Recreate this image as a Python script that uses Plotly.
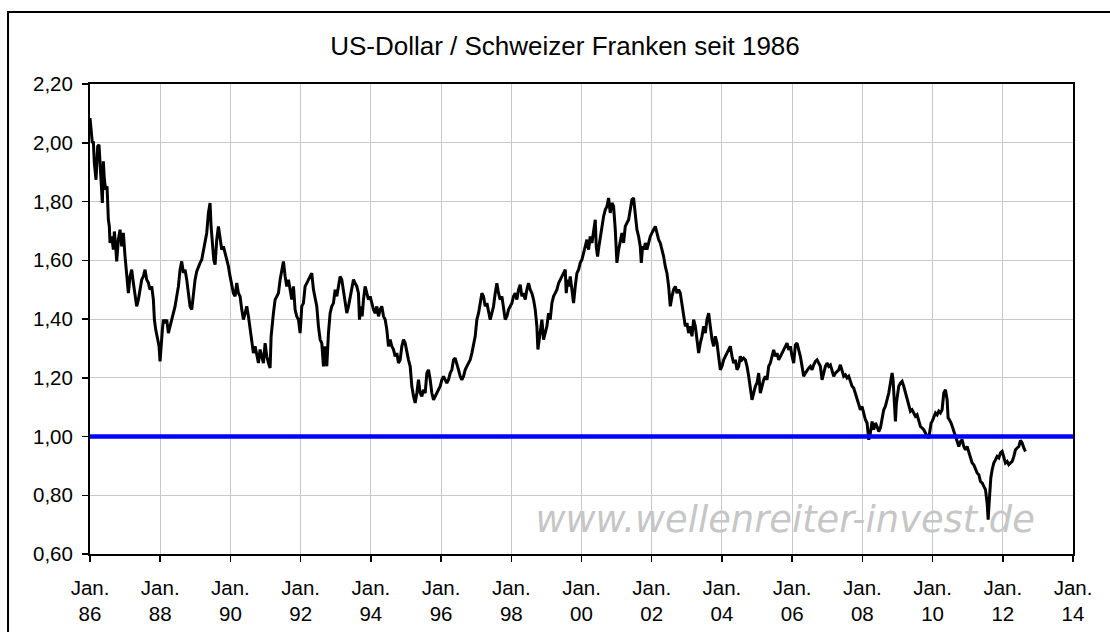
import plotly.graph_objects as go

TITLE = "US-Dollar / Schweizer Franken seit 1986"
WATERMARK = "www.wellenreiter-invest.de"

# Decimal year, USD/CHF rate
YEARS_86_91 = [1986.000, 1986.029, 1986.067, 1986.095, 1986.124, 1986.171, 1986.219, 1986.257, 1986.285, 1986.314,
               1986.352, 1986.380, 1986.409, 1986.447, 1986.485, 1986.523, 1986.551, 1986.570, 1986.618, 1986.665,
               1986.694, 1986.732, 1986.760, 1986.808, 1986.855, 1986.903, 1986.950, 1986.998, 1987.026, 1987.064,
               1987.093, 1987.140, 1987.188, 1987.235, 1987.283, 1987.330, 1987.378, 1987.425, 1987.473, 1987.520,
               1987.568, 1987.615, 1987.663, 1987.710, 1987.758, 1987.805, 1987.834, 1987.872, 1987.929, 1987.967,
               1987.995, 1988.024, 1988.062, 1988.090, 1988.138, 1988.185, 1988.233, 1988.280, 1988.328, 1988.375,
               1988.423, 1988.470, 1988.518, 1988.565, 1988.613, 1988.660, 1988.708, 1988.755, 1988.803, 1988.850,
               1988.898, 1988.945, 1988.993, 1989.040, 1989.088, 1989.135, 1989.183, 1989.230, 1989.278, 1989.325,
               1989.373, 1989.420, 1989.449, 1989.487, 1989.525, 1989.563, 1989.610, 1989.658, 1989.705, 1989.753,
               1989.800, 1989.848, 1989.895, 1989.943, 1989.990, 1990.038, 1990.085, 1990.133, 1990.180, 1990.228,
               1990.275, 1990.323, 1990.370, 1990.418, 1990.465, 1990.513, 1990.560, 1990.608, 1990.655, 1990.703,
               1990.750, 1990.798, 1990.845, 1990.893, 1990.940, 1990.988, 1991.035, 1991.083, 1991.130, 1991.159,
               1991.197, 1991.225, 1991.273, 1991.320, 1991.368, 1991.415, 1991.463, 1991.510, 1991.558, 1991.605,
               1991.653, 1991.700, 1991.748, 1991.795]
RATE_86_91 = [2.084, 2.033, 1.999, 2.005, 1.931, 1.874, 1.988, 1.993, 1.920, 1.863,
              1.795, 1.937, 1.874, 1.840, 1.852, 1.738, 1.715, 1.659, 1.681, 1.636,
              1.698, 1.647, 1.596, 1.670, 1.704, 1.647, 1.693, 1.613, 1.579, 1.534,
              1.488, 1.545, 1.568, 1.523, 1.488, 1.443, 1.466, 1.500, 1.534, 1.545,
              1.568, 1.534, 1.523, 1.500, 1.511, 1.466, 1.398, 1.364, 1.330, 1.307,
              1.256, 1.318, 1.364, 1.398, 1.386, 1.398, 1.352, 1.375, 1.398, 1.420,
              1.443, 1.477, 1.511, 1.568, 1.596, 1.557, 1.568, 1.534, 1.477, 1.443,
              1.432, 1.488, 1.534, 1.562, 1.579, 1.591, 1.602, 1.636, 1.659, 1.693,
              1.761, 1.795, 1.715, 1.647, 1.602, 1.585, 1.670, 1.715, 1.681, 1.636,
              1.647, 1.625, 1.602, 1.579, 1.545, 1.511, 1.488, 1.477, 1.523, 1.488,
              1.477, 1.432, 1.398, 1.420, 1.443, 1.409, 1.364, 1.318, 1.284, 1.307,
              1.273, 1.250, 1.296, 1.273, 1.250, 1.318, 1.273, 1.250, 1.233, 1.341,
              1.398, 1.420, 1.466, 1.477, 1.488, 1.534, 1.568, 1.596, 1.545, 1.511,
              1.534, 1.500, 1.466, 1.511]

YEARS_91_97 = [1991.842, 1991.890, 1991.937, 1991.985, 1992.032, 1992.080, 1992.127, 1992.175, 1992.222, 1992.270,
               1992.317, 1992.365, 1992.412, 1992.460, 1992.507, 1992.555, 1992.602, 1992.650, 1992.697, 1992.745,
               1992.792, 1992.840, 1992.887, 1992.935, 1992.982, 1993.030, 1993.077, 1993.125, 1993.172, 1993.220,
               1993.267, 1993.315, 1993.362, 1993.410, 1993.457, 1993.505, 1993.552, 1993.600, 1993.647, 1993.676,
               1993.714, 1993.752, 1993.790, 1993.837, 1993.885, 1993.932, 1993.980, 1994.027, 1994.075, 1994.122,
               1994.170, 1994.217, 1994.265, 1994.312, 1994.360, 1994.407, 1994.455, 1994.502, 1994.550, 1994.597,
               1994.645, 1994.692, 1994.740, 1994.787, 1994.835, 1994.882, 1994.930, 1994.977, 1995.025, 1995.072,
               1995.120, 1995.167, 1995.215, 1995.262, 1995.310, 1995.357, 1995.405, 1995.452, 1995.500, 1995.547,
               1995.595, 1995.642, 1995.690, 1995.737, 1995.785, 1995.832, 1995.880, 1995.927, 1995.975, 1996.022,
               1996.070, 1996.117, 1996.165, 1996.212, 1996.260, 1996.307, 1996.355, 1996.402, 1996.450, 1996.497,
               1996.545, 1996.592, 1996.640, 1996.687, 1996.735, 1996.782, 1996.830, 1996.877, 1996.925, 1996.972,
               1997.020, 1997.067, 1997.115, 1997.162, 1997.210, 1997.257, 1997.305, 1997.352, 1997.400]
RATE_91_97 = [1.432, 1.409, 1.398, 1.352, 1.443, 1.454, 1.511, 1.522, 1.534, 1.545,
              1.556, 1.500, 1.477, 1.443, 1.375, 1.330, 1.318, 1.239, 1.307, 1.239,
              1.352, 1.420, 1.443, 1.454, 1.500, 1.477, 1.511, 1.545, 1.534, 1.500,
              1.466, 1.420, 1.443, 1.477, 1.500, 1.534, 1.522, 1.511, 1.488, 1.398,
              1.443, 1.409, 1.466, 1.511, 1.488, 1.466, 1.477, 1.454, 1.432, 1.420,
              1.443, 1.409, 1.432, 1.443, 1.409, 1.398, 1.364, 1.307, 1.330, 1.307,
              1.296, 1.273, 1.284, 1.250, 1.261, 1.307, 1.330, 1.318, 1.284, 1.261,
              1.239, 1.171, 1.137, 1.114, 1.148, 1.193, 1.148, 1.137, 1.159, 1.148,
              1.216, 1.227, 1.193, 1.148, 1.125, 1.137, 1.148, 1.159, 1.171, 1.193,
              1.205, 1.193, 1.182, 1.193, 1.216, 1.227, 1.261, 1.267, 1.250, 1.227,
              1.205, 1.193, 1.205, 1.227, 1.239, 1.250, 1.261, 1.284, 1.318, 1.341,
              1.398, 1.420, 1.454, 1.488, 1.477, 1.443, 1.454, 1.420, 1.398]

YEARS_97_02 = [1997.447, 1997.494, 1997.542, 1997.589, 1997.637, 1997.684, 1997.732, 1997.779, 1997.827, 1997.874,
               1997.922, 1997.969, 1998.017, 1998.064, 1998.112, 1998.159, 1998.207, 1998.254, 1998.302, 1998.349,
               1998.397, 1998.444, 1998.492, 1998.539, 1998.587, 1998.634, 1998.682, 1998.729, 1998.758, 1998.796,
               1998.834, 1998.872, 1998.919, 1998.967, 1999.014, 1999.062, 1999.109, 1999.157, 1999.204, 1999.252,
               1999.299, 1999.347, 1999.394, 1999.442, 1999.489, 1999.537, 1999.565, 1999.603, 1999.641, 1999.679,
               1999.727, 1999.774, 1999.822, 1999.869, 1999.917, 1999.964, 2000.012, 2000.059, 2000.107, 2000.154,
               2000.202, 2000.249, 2000.297, 2000.344, 2000.392, 2000.420, 2000.458, 2000.496, 2000.534, 2000.582,
               2000.629, 2000.677, 2000.724, 2000.772, 2000.819, 2000.867, 2000.914, 2000.962, 2001.009, 2001.057,
               2001.104, 2001.152, 2001.199, 2001.247, 2001.294, 2001.342, 2001.389, 2001.437, 2001.484, 2001.532,
               2001.579, 2001.627, 2001.674, 2001.703, 2001.741, 2001.779, 2001.817, 2001.864, 2001.912, 2001.959,
               2002.007, 2002.054, 2002.102, 2002.149, 2002.197, 2002.244, 2002.292, 2002.339, 2002.387, 2002.434,
               2002.482, 2002.529, 2002.577, 2002.624, 2002.672, 2002.719, 2002.767, 2002.814]
RATE_97_02 = [1.420, 1.443, 1.488, 1.522, 1.488, 1.466, 1.477, 1.443, 1.398, 1.409,
              1.432, 1.443, 1.454, 1.477, 1.488, 1.466, 1.500, 1.517, 1.477, 1.488,
              1.466, 1.500, 1.522, 1.500, 1.488, 1.466, 1.432, 1.375, 1.296, 1.330,
              1.364, 1.398, 1.330, 1.352, 1.375, 1.420, 1.398, 1.454, 1.477, 1.488,
              1.500, 1.522, 1.534, 1.545, 1.556, 1.568, 1.488, 1.534, 1.511, 1.545,
              1.500, 1.454, 1.511, 1.556, 1.568, 1.591, 1.602, 1.625, 1.647, 1.670,
              1.636, 1.681, 1.659, 1.704, 1.738, 1.647, 1.613, 1.647, 1.681, 1.715,
              1.749, 1.772, 1.783, 1.812, 1.761, 1.795, 1.783, 1.704, 1.591, 1.636,
              1.670, 1.693, 1.659, 1.715, 1.727, 1.738, 1.772, 1.806, 1.812, 1.761,
              1.704, 1.681, 1.647, 1.591, 1.647, 1.636, 1.659, 1.636, 1.659, 1.681,
              1.693, 1.704, 1.715, 1.693, 1.670, 1.659, 1.636, 1.613, 1.579, 1.556,
              1.511, 1.443, 1.477, 1.500, 1.511, 1.488, 1.500, 1.488]

YEARS_02_08 = [2002.957, 2003.004, 2003.052, 2003.099, 2003.147, 2003.194, 2003.242, 2003.289, 2003.337, 2003.384,
               2003.432, 2003.479, 2003.527, 2003.574, 2003.622, 2003.669, 2003.717, 2003.764, 2003.812, 2003.859,
               2003.907, 2003.954, 2004.002, 2004.049, 2004.097, 2004.144, 2004.192, 2004.239, 2004.287, 2004.334,
               2004.382, 2004.429, 2004.477, 2004.524, 2004.572, 2004.619, 2004.667, 2004.714, 2004.762, 2004.809,
               2004.857, 2004.904, 2004.952, 2004.999, 2005.047, 2005.094, 2005.142, 2005.189, 2005.237, 2005.284,
               2005.332, 2005.379, 2005.427, 2005.474, 2005.522, 2005.569, 2005.617, 2005.664, 2005.712, 2005.759,
               2005.807, 2005.854, 2005.902, 2005.949, 2005.997, 2006.044, 2006.092, 2006.139, 2006.187, 2006.234,
               2006.282, 2006.329, 2006.377, 2006.424, 2006.472, 2006.519, 2006.567, 2006.614, 2006.662, 2006.709,
               2006.757, 2006.804, 2006.852, 2006.899, 2006.947, 2006.994, 2007.042, 2007.089, 2007.137, 2007.184,
               2007.232, 2007.279, 2007.327, 2007.374, 2007.422, 2007.469, 2007.517, 2007.564, 2007.612, 2007.659,
               2007.707, 2007.754, 2007.802, 2007.849, 2007.897, 2007.944, 2007.992, 2008.039, 2008.087, 2008.134,
               2008.182, 2008.229]
RATE_02_08 = [1.375, 1.386, 1.352, 1.375, 1.341, 1.398, 1.375, 1.318, 1.284, 1.318,
              1.341, 1.375, 1.352, 1.398, 1.420, 1.375, 1.330, 1.307, 1.341, 1.318,
              1.261, 1.227, 1.239, 1.261, 1.273, 1.284, 1.295, 1.307, 1.273, 1.250,
              1.261, 1.227, 1.239, 1.273, 1.261, 1.267, 1.261, 1.239, 1.205, 1.171,
              1.125, 1.148, 1.171, 1.182, 1.216, 1.148, 1.171, 1.193, 1.205, 1.193,
              1.239, 1.250, 1.273, 1.295, 1.273, 1.284, 1.261, 1.273, 1.284, 1.295,
              1.307, 1.318, 1.295, 1.307, 1.273, 1.250, 1.312, 1.318, 1.295, 1.273,
              1.239, 1.205, 1.216, 1.227, 1.233, 1.239, 1.227, 1.244, 1.256, 1.261,
              1.250, 1.239, 1.193, 1.216, 1.239, 1.250, 1.239, 1.244, 1.227, 1.205,
              1.216, 1.222, 1.227, 1.244, 1.222, 1.205, 1.210, 1.199, 1.205, 1.188,
              1.171, 1.165, 1.148, 1.125, 1.114, 1.091, 1.102, 1.080, 1.057, 1.046,
              0.989]

YEARS_08_12 = [2008.248, 2008.277, 2008.324, 2008.372, 2008.419, 2008.467, 2008.514, 2008.562, 2008.609, 2008.657,
               2008.704, 2008.752, 2008.799, 2008.847, 2008.875, 2008.913, 2008.942, 2008.970, 2009.008, 2009.037,
               2009.084, 2009.132, 2009.179, 2009.227, 2009.274, 2009.322, 2009.369, 2009.417, 2009.464, 2009.512,
               2009.559, 2009.607, 2009.654, 2009.702, 2009.749, 2009.797, 2009.844, 2009.892, 2009.920, 2009.958,
               2009.987, 2010.034, 2010.082, 2010.129, 2010.177, 2010.224, 2010.272, 2010.319, 2010.367, 2010.414,
               2010.443, 2010.481, 2010.528, 2010.576, 2010.623, 2010.661, 2010.699, 2010.747, 2010.794, 2010.842,
               2010.889, 2010.937, 2010.984, 2011.032, 2011.079, 2011.127, 2011.174, 2011.222, 2011.269, 2011.317,
               2011.364, 2011.412, 2011.459, 2011.507, 2011.554, 2011.583, 2011.611, 2011.630, 2011.659, 2011.697,
               2011.744, 2011.792, 2011.839, 2011.887, 2011.934, 2011.982, 2012.029, 2012.077, 2012.124, 2012.172,
               2012.219, 2012.267, 2012.314, 2012.362, 2012.409, 2012.457, 2012.504, 2012.552, 2012.599, 2012.647,
               2012.694]
RATE_08_12 = [1.012, 1.034, 1.051, 1.023, 1.046, 1.034, 1.017, 1.029, 1.069, 1.091,
              1.103, 1.125, 1.148, 1.182, 1.216, 1.193, 1.125, 1.051, 1.114, 1.148,
              1.171, 1.182, 1.188, 1.171, 1.148, 1.125, 1.103, 1.086, 1.091, 1.080,
              1.069, 1.074, 1.057, 1.034, 1.029, 1.023, 1.012, 1.000, 0.995, 1.023,
              1.046, 1.051, 1.069, 1.080, 1.074, 1.086, 1.080, 1.091, 1.148, 1.159,
              1.125, 1.063, 1.057, 1.046, 1.029, 1.012, 0.995, 0.978, 0.966, 0.983,
              0.989, 0.966, 0.955, 0.966, 0.944, 0.932, 0.910, 0.904, 0.887, 0.876,
              0.870, 0.847, 0.842, 0.830, 0.819, 0.773, 0.717, 0.773, 0.819, 0.859,
              0.887, 0.910, 0.921, 0.932, 0.927, 0.944, 0.949, 0.932, 0.910, 0.915,
              0.904, 0.910, 0.915, 0.932, 0.955, 0.961, 0.966, 0.987, 0.978, 0.961,
              0.949]

PARITY = 1.0
X_TICKS = [1986, 1988, 1990, 1992, 1994, 1996, 1998, 2000, 2002, 2004, 2006, 2008, 2010, 2012, 2014]
X_TICK_LABELS = ["Jan.<br>%02d" % (y % 100) for y in X_TICKS]
Y_TICKS = [0.6, 0.8, 1.0, 1.2, 1.4, 1.6, 1.8, 2.0, 2.2]

years = YEARS_86_91 + YEARS_91_97 + YEARS_97_02 + YEARS_02_08 + YEARS_08_12
rates = RATE_86_91 + RATE_91_97 + RATE_97_02 + RATE_02_08 + RATE_08_12

FONT = "Liberation Sans, Arial, sans-serif"

fig = go.Figure()

# watermark drawn beneath the data line
fig.add_trace(go.Scatter(
    x=[2005.8], y=[0.705], mode="text", text=[WATERMARK],
    textposition="middle center",
    textfont=dict(family="DejaVu Sans, Verdana, sans-serif", size=36.8, color="#c6c6c6", style="italic"),
    hoverinfo="skip", showlegend=False, cliponaxis=False,
))

fig.add_trace(go.Scatter(
    x=years, y=rates, mode="lines",
    line=dict(color="black", width=3),
    showlegend=False, hoverinfo="skip",
))

fig.add_hline(y=PARITY, line=dict(color="#0000ff", width=4.5), layer="above")

# outer chart-area border
fig.add_shape(type="rect", xref="paper", yref="paper",
              x0=-0.0834, x1=1.05, y0=-0.2, y1=1.153,
              line=dict(color="black", width=2), fillcolor="rgba(0,0,0,0)")

fig.update_layout(
    width=1110, height=632,
    margin=dict(l=90, r=37, t=84, b=78, autoexpand=False),
    paper_bgcolor="white", plot_bgcolor="white",
    separators=",.",
    showlegend=False,
    hovermode=False,
    font=dict(family=FONT, color="black"),
    title=dict(text=TITLE, x=0.509, xanchor="center", xref="container",
               y=0.927, yanchor="middle", yref="container",
               font=dict(family=FONT, size=26, color="black")),
)

fig.update_xaxes(
    range=[1986, 2014], tickmode="array", tickvals=X_TICKS, ticktext=X_TICK_LABELS,
    showgrid=True, gridcolor="#c8c8c8", gridwidth=1,
    showline=True, linecolor="black", linewidth=2, mirror=True,
    ticks="outside", ticklen=6, tickcolor="black", tickwidth=1.5,
    tickfont=dict(family=FONT, size=20.5, color="black"),
    ticklabelstandoff=8, automargin=False,
    zeroline=False,
)
fig.update_yaxes(
    range=[0.6, 2.2], tickmode="array", tickvals=Y_TICKS, tickformat=".2f",
    showgrid=True, gridcolor="#c8c8c8", gridwidth=1,
    showline=True, linecolor="black", linewidth=2, mirror=True,
    ticks="outside", ticklen=6, tickcolor="black", tickwidth=1.5,
    tickfont=dict(family=FONT, size=20.5, color="black"),
    ticklabelstandoff=5, automargin=False,
    zeroline=False,
)

fig.write_html("out.html", config={"displayModeBar": False, "staticPlot": True},
               post_script="document.body.style.margin='0';document.body.style.overflow='hidden';")
